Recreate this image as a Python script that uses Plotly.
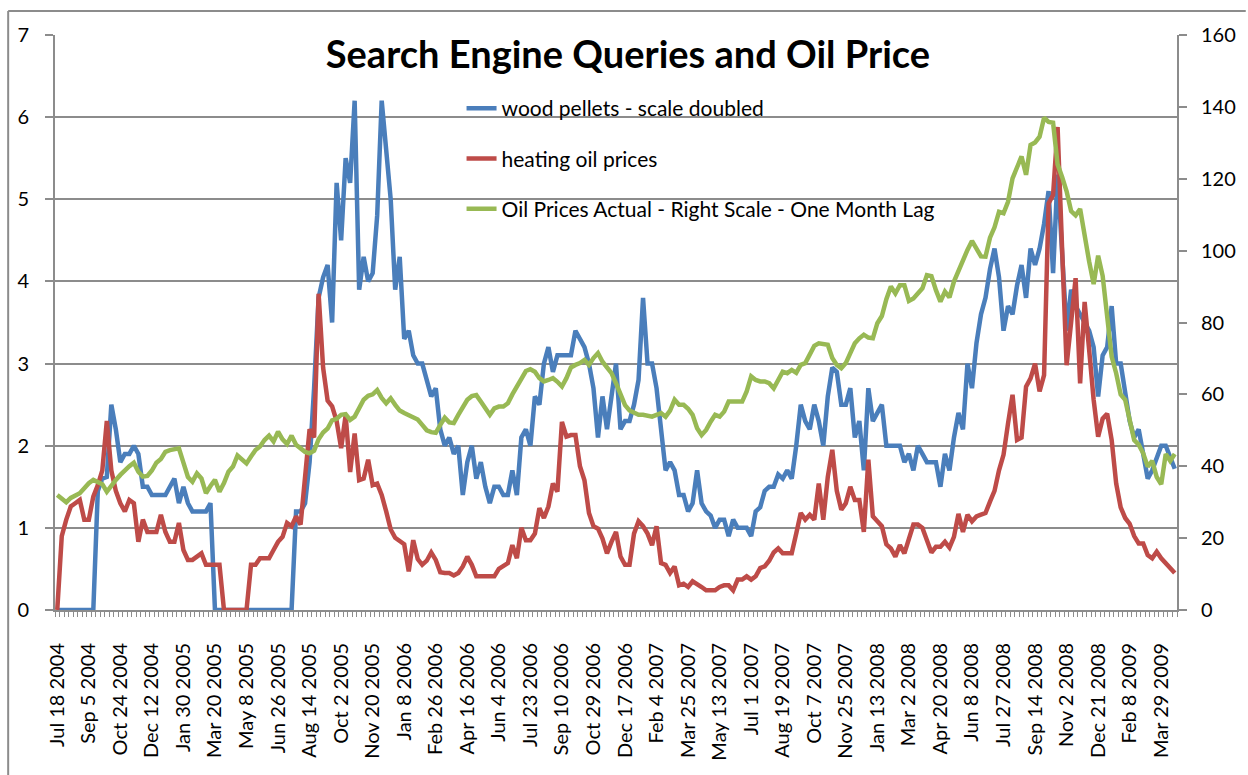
import pandas as pd
import plotly.graph_objects as go

# ---------------- data ----------------
start_date = "2004-07-18"
n_weeks = 249
weeks = [f"{d.strftime('%b')} {d.day} {d.year}"
         for d in pd.date_range(start_date, periods=n_weeks, freq="7D")]

tick_labels = [
    "Jul 18 2004", "Sep 5 2004", "Oct 24 2004", "Dec 12 2004", "Jan 30 2005",
    "Mar 20 2005", "May 8 2005", "Jun 26 2005", "Aug 14 2005", "Oct 2 2005",
    "Nov 20 2005", "Jan 8 2006", "Feb 26 2006", "Apr 16 2006", "Jun 4 2006",
    "Jul 23 2006", "Sep 10 2006", "Oct 29 2006", "Dec 17 2006", "Feb 4 2007",
    "Mar 25 2007", "May 13 2007", "Jul 1 2007", "Aug 19 2007", "Oct 7 2007",
    "Nov 25 2007", "Jan 13 2008", "Mar 2 2008", "Apr 20 2008", "Jun 8 2008",
    "Jul 27 2008", "Sep 14 2008", "Nov 2 2008", "Dec 21 2008", "Feb 8 2009",
    "Mar 29 2009",
]

wood_pellets = [
    0, 0, 0, 0, 0, 0, 0, 0, 0, 1.45,
    1.6, 1.62, 2.5, 2.2, 1.8, 1.9, 1.9, 2.0, 1.9, 1.5,
    1.5, 1.4, 1.4, 1.4, 1.4, 1.5, 1.6, 1.3, 1.5, 1.3,
    1.2, 1.2, 1.2, 1.2, 1.3, 0, 0, 0, 0, 0,
    0, 0, 0, 0, 0, 0, 0, 0, 0, 0,
    0, 0, 0, 1.2, 1.2, 1.3, 1.8, 2.7, 3.8, 4.05,
    4.2, 3.5, 5.2, 4.5, 5.5, 5.2, 6.2, 3.9, 4.3, 4.0,
    4.1, 4.8, 6.2, 5.6, 5.0, 3.9, 4.3, 3.3, 3.4, 3.1,
    3.0, 3.0, 2.8, 2.6, 2.7, 2.2, 2.0, 2.1, 1.9, 2.0,
    1.4, 1.8, 2.0, 1.6, 1.8, 1.5, 1.3, 1.5, 1.5, 1.4,
    1.4, 1.7, 1.4, 2.1, 2.2, 2.0, 2.6, 2.5, 3.0, 3.2,
    2.9, 3.1, 3.1, 3.1, 3.1, 3.4, 3.3, 3.2, 3.0, 2.7,
    2.1, 2.6, 2.2, 2.6, 3.0, 2.2, 2.3, 2.3, 2.5, 2.8,
    3.8, 3.0, 3.0, 2.7, 2.2, 1.7, 1.8, 1.7, 1.4, 1.4,
    1.2, 1.3, 1.7, 1.3, 1.2, 1.15, 1.0, 1.1, 1.1, 0.9,
    1.1, 1.0, 1.0, 1.0, 0.9, 1.2, 1.25, 1.45, 1.5, 1.5,
    1.65, 1.6, 1.7, 1.6, 2.0, 2.5, 2.3, 2.2, 2.5, 2.3,
    2.0, 2.6, 2.95, 2.9, 2.5, 2.5, 2.7, 2.1, 2.3, 1.7,
    2.7, 2.3, 2.4, 2.5, 2.0, 2.0, 2.0, 2.0, 1.8, 1.9,
    1.7, 2.0, 1.9, 1.8, 1.8, 1.8, 1.5, 1.9, 1.7, 2.1,
    2.4, 2.2, 3.0, 2.7, 3.25, 3.6, 3.8, 4.15, 4.4, 4.05,
    3.4, 3.7, 3.6, 3.95, 4.2, 3.8, 4.4, 4.2, 4.4, 4.7,
    5.1, 4.1, 5.3, 4.4, 3.4, 3.9, 3.7, 3.6, 3.5, 3.4,
    3.2, 2.6, 3.1, 3.2, 3.7, 3.0, 3.0, 2.6, 2.3, 2.1,
    2.2, 1.9, 1.6, 1.7, 1.85, 2.0, 2.0, 1.85, 1.72,
]

heating_oil = [
    0, 0.9, 1.1, 1.26, 1.3, 1.34, 1.1, 1.1, 1.38, 1.52,
    1.7, 2.3, 1.7, 1.45, 1.3, 1.2, 1.34, 1.3, 0.83, 1.1,
    0.95, 0.95, 0.95, 1.16, 0.95, 0.83, 0.83, 1.06, 0.73, 0.61,
    0.61, 0.65, 0.69, 0.55, 0.55, 0.55, 0.55, 0, 0, 0,
    0, 0, 0, 0.55, 0.55, 0.63, 0.63, 0.63, 0.73, 0.83,
    0.89, 1.06, 1.02, 1.14, 1.04, 1.6, 2.2, 2.1, 3.85, 2.95,
    2.55, 2.48, 2.3, 1.97, 2.37, 1.68, 2.15, 1.58, 1.6, 1.83,
    1.52, 1.54, 1.4, 1.2, 0.98, 0.88, 0.84, 0.8, 0.47, 0.85,
    0.62, 0.55, 0.6, 0.7, 0.61, 0.46, 0.45, 0.45, 0.42, 0.45,
    0.53, 0.65, 0.55, 0.41, 0.41, 0.41, 0.41, 0.41, 0.5, 0.53,
    0.57, 0.79, 0.63, 1.0, 0.85, 0.85, 0.93, 1.24, 1.12, 1.26,
    1.54, 1.44, 2.29, 2.11, 2.13, 2.13, 1.75, 1.58, 1.18, 1.02,
    0.99, 0.87, 0.69, 0.83, 0.95, 0.65, 0.55, 0.55, 0.93, 1.08,
    1.02, 0.93, 0.79, 1.02, 0.57, 0.55, 0.45, 0.53, 0.3, 0.32,
    0.28, 0.35, 0.32, 0.28, 0.24, 0.24, 0.24, 0.28, 0.3, 0.3,
    0.24, 0.37, 0.37, 0.41, 0.37, 0.41, 0.51, 0.53, 0.6, 0.7,
    0.75, 0.69, 0.69, 0.69, 0.93, 1.18, 1.1, 1.16, 1.1, 1.54,
    1.1, 1.62, 1.95, 1.45, 1.22, 1.3, 1.5, 1.34, 1.34, 0.95,
    1.83, 1.14, 1.08, 1.02, 0.8, 0.75, 0.65, 0.79, 0.69, 0.85,
    1.04, 1.04, 1.0, 0.85, 0.7, 0.77, 0.77, 0.83, 0.76, 0.89,
    1.17, 0.95, 1.16, 1.08, 1.14, 1.16, 1.18, 1.32, 1.45, 1.7,
    1.89, 2.27, 2.62, 2.07, 2.1, 2.72, 2.82, 3.0, 2.66, 2.86,
    4.95, 5.05, 5.88, 4.4, 2.98, 3.5, 4.04, 2.76, 3.75, 3.17,
    2.56, 2.11, 2.33, 2.39, 2.07, 1.54, 1.25, 1.12, 1.05, 0.9,
    0.81, 0.81, 0.67, 0.63, 0.71, 0.63, 0.57, 0.5, 0.45,
]

oil_price = [
    32.0, 31.0, 30.0, 31.2, 31.7, 32.5, 33.9, 35.3, 36.2, 35.7,
    35.0, 32.9, 34.8, 36.2, 37.6, 39.0, 40.0, 41.0, 38.5, 37.1,
    37.3, 38.8, 41.0, 42.0, 44.0, 44.5, 44.6, 45.0, 41.0, 37.0,
    35.7, 38.0, 36.6, 32.5, 34.5, 36.2, 32.9, 35.3, 38.5, 39.9,
    43.0, 42.0, 40.8, 42.7, 44.5, 45.5, 47.3, 48.5, 46.9, 49.6,
    47.5, 46.2, 48.5, 46.0, 45.0, 44.0, 43.6, 44.3, 47.5, 49.4,
    50.5, 52.8, 53.2, 54.3, 54.5, 52.9, 53.8, 56.1, 58.5, 59.6,
    60.0, 61.2, 59.0, 57.5, 58.9, 57.1, 55.5, 54.8, 54.3, 53.8,
    53.0, 51.5, 50.0, 49.5, 49.3, 51.5, 53.5, 52.2, 52.0, 54.3,
    56.6, 58.5, 59.5, 59.8, 58.0, 56.0, 54.3, 56.1, 56.6, 56.6,
    57.5, 60.0, 62.0, 64.5, 66.5, 67.0, 66.3, 64.5, 63.6, 64.0,
    64.5, 63.5, 62.2, 64.5, 67.5, 68.2, 68.7, 69.6, 68.2, 70.1,
    71.5, 69.1, 67.3, 65.9, 63.1, 59.8, 57.0, 55.5, 54.8, 54.3,
    54.3, 54.0, 53.8, 54.3, 54.8, 53.8, 55.5, 58.5, 57.1, 57.1,
    56.0, 54.3, 50.6, 48.7, 50.1, 52.4, 54.3, 53.8, 55.2, 58.0,
    58.0, 58.0, 58.0, 60.8, 65.0, 64.0, 63.6, 63.6, 63.1, 61.7,
    64.0, 66.3, 65.9, 66.8, 66.0, 68.2, 68.7, 71.0, 73.5, 74.2,
    74.0, 73.8, 70.1, 68.2, 67.3, 68.7, 71.5, 74.2, 75.6, 76.6,
    75.8, 75.6, 79.8, 81.8, 86.5, 90.0, 88.1, 90.4, 90.4, 86.0,
    86.7, 88.1, 89.5, 93.2, 92.9, 89.0, 85.8, 88.6, 87.0, 91.4,
    94.5, 97.0, 100.2, 102.7, 100.5, 98.4, 98.3, 103.6, 106.5, 110.8,
    110.4, 113.6, 120.1, 123.2, 126.2, 121.1, 129.4, 130.1, 131.7, 137.0,
    135.8, 135.6, 124.0, 120.5, 116.5, 111.0, 109.8, 111.6, 103.5, 97.0,
    90.7, 98.6, 93.0, 81.6, 70.5, 65.9, 60.0, 58.5, 52.8, 47.3,
    46.0, 43.6, 39.9, 41.5, 37.0, 35.0, 43.4, 41.5, 43.4,
]

series_names = [
    "wood pellets - scale doubled",
    "heating oil prices",
    "Oil Prices Actual - Right Scale - One Month Lag",
]
title_text = "Search Engine Queries and Oil Price"

# ---------------- styling ----------------
BLUE = "#4A7EBB"
RED = "#BE4B48"
GREEN = "#98B954"
GRID = "#8C8C8C"
FONT = "Lato, 'Open Sans', sans-serif"

W, H = 1248, 775
L, R, T, B = 55, 67, 35, 165
PW = W - L - R
PH = H - T - B


def px_x(px):
    return (px - L) / PW


def px_y(py):
    return (H - B - py) / PH


ticktext = [w if w in tick_labels else "" for w in weeks]

fig = go.Figure()
fig.add_trace(go.Scatter(x=weeks, y=wood_pellets, mode="lines", name=series_names[0],
                         line=dict(color=BLUE, width=4.5), legendgroup="g1"))
fig.add_trace(go.Scatter(x=weeks, y=heating_oil, mode="lines", name=series_names[1],
                         line=dict(color=RED, width=4.5), legendgroup="g2"))
fig.add_trace(go.Scatter(x=weeks, y=oil_price, mode="lines", name=series_names[2],
                         line=dict(color=GREEN, width=4.5), legendgroup="g3", yaxis="y2"))

fig.update_layout(
    width=W, height=H,
    margin=dict(l=L, r=R, t=T, b=B, pad=0),
    paper_bgcolor="white", plot_bgcolor="white",
    font=dict(family=FONT, size=20, color="#000000"),
    title=dict(text=f"<b>{title_text}</b>", xref="paper", x=px_x(630), xanchor="center",
               yref="container", y=1 - 55 / H, yanchor="middle",
               font=dict(family=FONT, size=38, color="#000000")),
    showlegend=True,
    legend=dict(x=px_x(463), y=px_y(88), xanchor="left", yanchor="top",
                bgcolor="rgba(0,0,0,0)", borderwidth=0,
                font=dict(family=FONT, size=21, color="#000000"),
                tracegroupgap=20, traceorder="grouped"),
    xaxis=dict(type="category", tickmode="array", tickvals=weeks, ticktext=ticktext,
               tickangle=-90, ticks="outside", ticklen=5, tickwidth=1, tickcolor=GRID,
               tickson="boundaries", showline=True, linecolor=GRID, linewidth=2,
               showgrid=False, zeroline=False, range=[-0.5, n_weeks - 0.5],
               ticklabelstandoff=23, tickfont=dict(size=20)),
    yaxis=dict(range=[0, 7], dtick=1, tick0=0, showgrid=True, gridcolor=GRID, gridwidth=2,
               showline=True, linecolor=GRID, linewidth=2, ticks="outside", ticklen=8,
               tickwidth=2, tickcolor=GRID, zeroline=False, ticklabelstandoff=12),
    yaxis2=dict(range=[0, 160], dtick=20, tick0=0, overlaying="y", side="right",
                showgrid=False, showline=True, linecolor=GRID, linewidth=2,
                ticks="outside", ticklen=8, tickwidth=2, tickcolor=GRID, zeroline=False,
                ticklabelstandoff=10),
    shapes=[
        # legend background (hides gridlines behind the legend)
        dict(type="rect", xref="paper", yref="paper", x0=px_x(419), x1=px_x(965),
             y0=px_y(236), y1=px_y(84), fillcolor="white", line=dict(width=0),
             layer="between"),
        # chart outer border (top and left)
        dict(type="line", xref="paper", yref="paper", x0=px_x(8), x1=px_x(1250),
             y0=px_y(11), y1=px_y(11), line=dict(color=GRID, width=2)),
        dict(type="line", xref="paper", yref="paper", x0=px_x(8), x1=px_x(8),
             y0=px_y(11), y1=px_y(780), line=dict(color=GRID, width=2)),
    ],
)

fig.write_html("out.html", config={"displayModeBar": False},
               post_script="document.body.style.margin='0';document.body.style.overflow='hidden';")
